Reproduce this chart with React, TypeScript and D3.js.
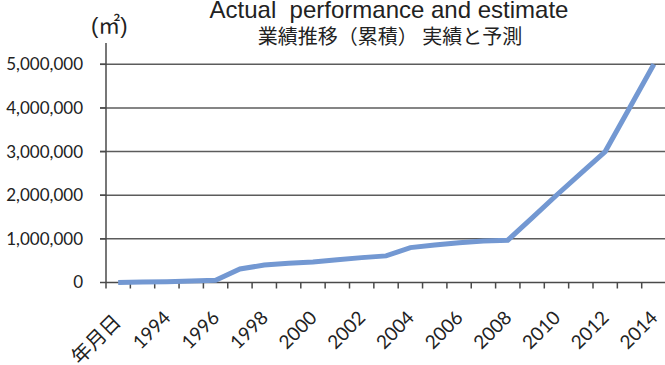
import React from "react";
import * as d3 from "d3";

// Category axis: a header cell followed by the years 1993–2014
const categories = [
  "年月日", "1993", "1994", "1995", "1996", "1997", "1998", "1999", "2000",
  "2001", "2002", "2003", "2004", "2005", "2006", "2007", "2008", "2009",
  "2010", "2011", "2012", "2013", "2014",
];

// Cumulative area (m²)
const values = [
  0, 10000, 20000, 35000, 50000, 310000, 400000, 440000, 470000, 520000,
  570000, 610000, 800000, 860000, 910000, 950000, 970000, 1480000, 2000000,
  2500000, 3000000, 4000000, 5000000,
];

// Every other category carries a label
const tickLabels = [
  "年月日", "1994", "1996", "1998", "2000", "2002", "2004", "2006", "2008",
  "2010", "2012", "2014",
];

const yTicks = [0, 1000000, 2000000, 3000000, 4000000, 5000000];

const title = "Actual  performance and estimate";
const subtitle = "業績推移（累積） 実績と予測";
const unit = "(㎡)";

const W = 665;
const H = 365;
const axisX = 106;
const step = 24.35;
const axisColor = "#4a4a4a";
const lineColor = "#7398d2";
const latin = "Lato, 'Open Sans', sans-serif";
const cjk = "'Noto Sans CJK JP', sans-serif";
const arial = "'Liberation Sans', Arial, sans-serif";

export default function App() {
  const x = d3
    .scaleBand<string>()
    .domain(categories)
    .range([axisX, axisX + categories.length * step])
    .padding(0);
  const y = d3.scaleLinear().domain([0, 5500000]).range([282.5, 42.5]);
  const cx = (c: string) => (x(c) as number) + x.bandwidth() / 2;

  const line = d3
    .line<number>()
    .x((_, i) => cx(categories[i]))
    .y((v) => y(v));

  const fmt = d3.format(",");
  const boundaries = d3.range(categories.length + 1).map((i) => axisX + i * step);

  return (
    <svg
      width={W}
      height={H}
      style={{ position: "absolute", left: 0, top: 0, background: "#fff" }}
    >
      {/* titles */}
      <text
        x={389}
        y={18}
        textAnchor="middle"
        fontFamily={arial}
        fontSize={24}
        fill="#222"
        style={{ whiteSpace: "pre" }}
      >
        {title}
      </text>
      <text
        x={390}
        y={44}
        textAnchor="middle"
        fontFamily={cjk}
        fontSize={20}
        fill="#222"
      >
        {subtitle}
      </text>
      {/* unit */}
      <text x={91} y={33} fontFamily={`${arial}, 'Noto Sans CJK JP'`} fontSize={22} fill="#222">
        {unit}
      </text>

      {/* gridlines */}
      {yTicks.slice(1).map((t) => (
        <line
          key={t}
          x1={axisX - 6}
          x2={W}
          y1={y(t)}
          y2={y(t)}
          stroke="#5c5c5c"
          strokeWidth={1.5}
        />
      ))}

      {/* y axis */}
      <line x1={axisX} x2={axisX} y1={43} y2={y(0)} stroke={axisColor} strokeWidth={1.5} />
      {yTicks.map((t) => (
        <g key={t}>
          <line x1={axisX - 6} x2={axisX} y1={y(t)} y2={y(t)} stroke={axisColor} strokeWidth={1.5} />
          <text
            x={83}
            y={y(t)}
            dy="0.35em"
            textAnchor="end"
            fontFamily={latin}
            fontSize={17}
            fill="#222"
          >
            {fmt(t)}
          </text>
        </g>
      ))}

      {/* x axis */}
      <line x1={axisX} x2={W} y1={y(0)} y2={y(0)} stroke={axisColor} strokeWidth={1.5} />
      {boundaries.map((b, i) => (
        <line key={i} x1={b} x2={b} y1={y(0)} y2={y(0) + 6} stroke={axisColor} strokeWidth={1.5} />
      ))}
      {tickLabels.map((lab) => {
        const isHeader = lab === "年月日";
        const px = cx(lab) + (isHeader ? 4 : 5);
        const py = isHeader ? 323 : 319;
        return (
          <text
            key={lab}
            x={px}
            y={py}
            transform={`rotate(-45 ${px} ${py})`}
            textAnchor="end"
            fontFamily={isHeader ? cjk : latin}
            fontSize={isHeader ? 20 : 19}
            fill="#222"
          >
            {lab}
          </text>
        );
      })}

      {/* series */}
      <path
        d={line(values) ?? ""}
        fill="none"
        stroke={lineColor}
        strokeWidth={5}
        strokeLinejoin="miter"
        strokeLinecap="butt"
      />
    </svg>
  );
}
